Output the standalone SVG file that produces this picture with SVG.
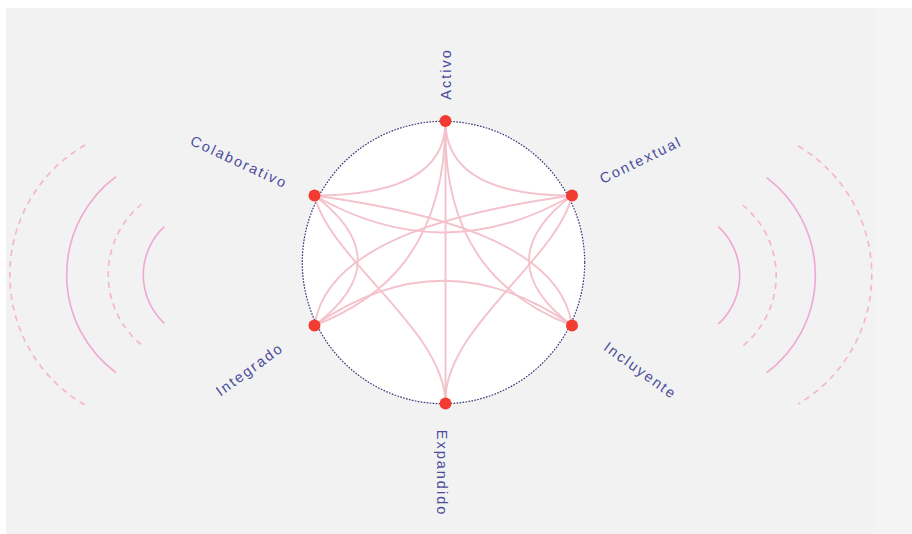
<svg xmlns="http://www.w3.org/2000/svg" width="912" height="534" viewBox="0 0 912 534">
<style>
.lbl{font-family:"Liberation Sans",Arial,sans-serif;font-size:14.5px;fill:#4a4d9c;letter-spacing:2px;text-anchor:middle}
.link{fill:none;stroke:#f4c2cc;stroke-width:1.9}
.wave{fill:none;stroke:#f0a8d2;stroke-width:1.6}
.wave.d{stroke:#f5b3cf;stroke-dasharray:6 5}
.dot{fill:#f23c32}
</style>
<rect width="912" height="534" fill="#ffffff"/>
<rect x="6" y="8" width="906" height="526" fill="#f2f2f2"/>
<rect x="874" y="8" width="38" height="526" fill="#f4f4f4"/>
<g id="waves-left">
<path class="wave" d="M164.3,226.7 A66,66 0 0 0 164.3,323.3"/>
<path class="wave d" d="M141.7,204 A91,91 0 0 0 141.7,345"/>
<path class="wave" d="M116,176.7 A122,122 0 0 0 116,372.7"/>
<path class="wave d" d="M85,145 A150,150 0 0 0 85,405"/>
</g>
<g id="waves-right">
<path class="wave" d="M718.3,226.7 A66,66 0 0 1 718.3,324"/>
<path class="wave d" d="M742.7,205 A91,91 0 0 1 742.7,346"/>
<path class="wave" d="M766.7,177.7 A122,122 0 0 1 766.7,372.7"/>
<path class="wave d" d="M798.3,146 A150,150 0 0 1 798.3,404"/>
</g>
<g id="ring">
<circle cx="443.5" cy="262.5" r="141.2" fill="#ffffff" stroke="#2f3575" stroke-width="1.2" stroke-dasharray="1.6 1.4"/>
</g>
<g id="connectors">
<path class="link" d="M445.5,121 Q445.5,195.5 314.5,195.5"/>
<path class="link" d="M445.5,121 Q445.5,195.5 572,195.5"/>
<path class="link" d="M445.5,121 L445.5,403.5"/>
<path class="link" d="M445.5,121 C445,250 380,300 314.5,325.5"/>
<path class="link" d="M445.5,121 C442,250 507,300 572,325.5"/>
<path class="link" d="M445.5,403.5 C445,330 330,260 314.5,195.5"/>
<path class="link" d="M445.5,403.5 C442,330 557,260 572,195.5"/>
<path class="link" d="M314.5,195.5 Q443.5,269.5 572,195.5"/>
<path class="link" d="M314.5,325.5 Q443.5,236 572,325.5"/>
<path class="link" d="M314.5,195.5 Q401,260.5 314.5,325.5"/>
<path class="link" d="M572,195.5 Q486,260.5 572,325.5"/>
<path class="link" d="M314.5,195.5 C420,210 560,240 572,325.5"/>
<path class="link" d="M572,195.5 C467,210 327,240 314.5,325.5"/>
</g>
<g id="node-activo"><circle class="dot" cx="445.5" cy="121" r="6"/><text class="lbl" transform="translate(451,74) rotate(-90)">Activo</text></g>
<g id="node-contextual"><circle class="dot" cx="572" cy="195.5" r="6"/><text class="lbl" transform="translate(643,164.5) rotate(-26)">Contextual</text></g>
<g id="node-incluyente"><circle class="dot" cx="572" cy="325.5" r="6"/><text class="lbl" transform="translate(637.5,374.5) rotate(36)">Incluyente</text></g>
<g id="node-expandido"><circle class="dot" cx="445.5" cy="403.5" r="6"/><text class="lbl" transform="translate(437,473) rotate(90)">Expandido</text></g>
<g id="node-integrado"><circle class="dot" cx="314.5" cy="325.5" r="6"/><text class="lbl" transform="translate(252.5,373.5) rotate(-36)">Integrado</text></g>
<g id="node-colaborativo"><circle class="dot" cx="314.5" cy="195.5" r="6"/><text class="lbl" transform="translate(237,166.5) rotate(25)">Colaborativo</text></g>
</svg>
